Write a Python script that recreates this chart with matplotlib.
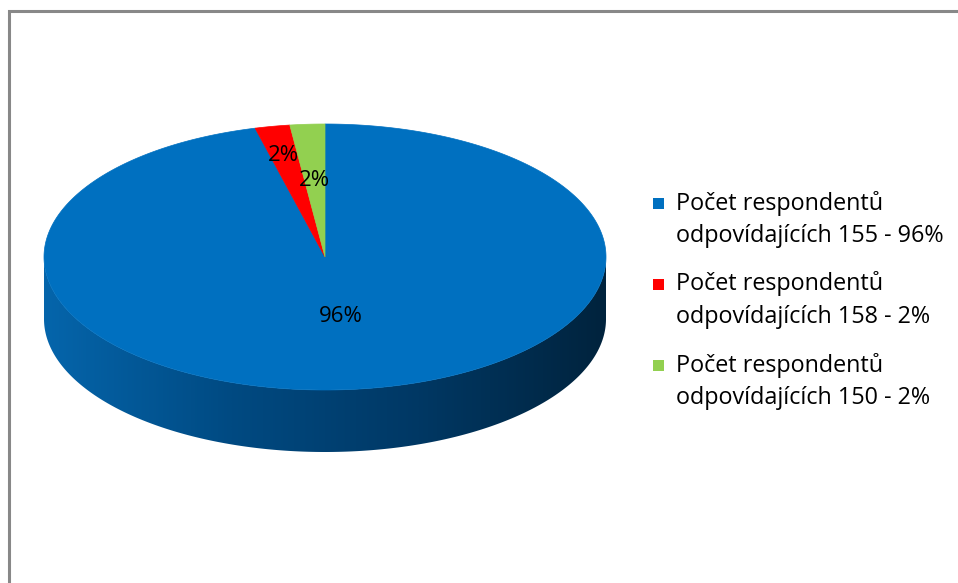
import numpy as np
import matplotlib
matplotlib.use("Agg")
import matplotlib.pyplot as plt
from matplotlib.patches import Polygon, Rectangle
from matplotlib.colors import LinearSegmentedColormap
from matplotlib.lines import Line2D

# ---- data ----
labels = [
    "Počet respondentů\nodpovídajících 155 - 96%",
    "Počet respondentů\nodpovídajících 158 - 2%",
    "Počet respondentů\nodpovídajících 150 - 2%",
]
values = [96, 2, 2]
value_labels = ["96%", "2%", "2%"]
colors = ["#0070C0", "#FF0000", "#92D050"]

# ---- layout (pixel units) ----
W, H = 958, 583
cx, cy = 325, 257          # centre of the pie's top face
ra, rb = 281, 133          # ellipse semi-axes of the top face
depth = 62                 # thickness of the pie
label_r = [0.45, 0.78, 0.58]
font = ["Open Sans", "DejaVu Sans"]

fig = plt.figure(figsize=(W / 100, H / 100), dpi=100)
ax = fig.add_axes([0, 0, 1, 1])
ax.set_xlim(0, W)
ax.set_ylim(H, 0)
ax.axis("off")


def ellipse_pt(theta_deg, f=1.0):
    """Point on the top face; theta measured clockwise from 12 o'clock."""
    t = np.radians(theta_deg)
    return cx + f * ra * np.sin(t), cy - f * rb * np.cos(t)


# ---- side wall (front half) with a left-to-right shading ----
th = np.linspace(90, 270, 400)
ux, uy = ellipse_pt(th)
side_xy = np.concatenate([np.column_stack([ux, uy]),
                          np.column_stack([ux[::-1], uy[::-1] + depth])])
side = Polygon(side_xy, closed=True, facecolor="none", edgecolor="none")
ax.add_patch(side)
shade = LinearSegmentedColormap.from_list(
    "side", ["#0565AB", "#004A82", "#003864", "#00233D"])
grad = np.linspace(0, 1, 512).reshape(1, -1)
img = ax.imshow(grad, cmap=shade, extent=(cx - ra, cx + ra, cy + rb + depth + 2, cy - 2),
                aspect="auto", interpolation="bilinear", zorder=1)
img.set_clip_path(side)

# ---- top face slices ----
total = float(sum(values))
start = 0.0
mids = []
for v, c in zip(values, colors):
    span = 360.0 * v / total
    th = np.linspace(start, start + span, max(int(span * 3), 4))
    px, py = ellipse_pt(th)
    pts = np.vstack([[cx, cy], np.column_stack([px, py])])
    ax.add_patch(Polygon(pts, closed=True, facecolor=c, edgecolor=c,
                         linewidth=0.5, zorder=2))
    mids.append(start + span / 2)
    start += span

# ---- data labels ----
for m, txt, f in zip(mids, value_labels, label_r):
    x, y = ellipse_pt(m, f)
    ax.text(x, y, txt, ha="center", va="center", fontsize=16,
            family=font, color="#000000", zorder=3)

# ---- legend ----
row_y = [203, 284, 365]
line_gap = 33
for y, lab, c in zip(row_y, labels, colors):
    ax.add_patch(Rectangle((653, y - 5.5), 11, 11, facecolor=c,
                           edgecolor="none", zorder=3))
    first, second = lab.split("\n")
    ax.text(676, y, first, ha="left", va="center", fontsize=16.8,
            family=font, color="#000000")
    ax.text(676, y + line_gap, second, ha="left", va="center", fontsize=16.8,
            family=font, color="#000000")

# ---- chart frame ----
ax.add_line(Line2D([9, 9, W + 5], [H + 5, 10.5, 10.5], color="#888888",
                   linewidth=2.2, solid_joinstyle="miter"))

fig.savefig("out.png", dpi=100, facecolor="white")
